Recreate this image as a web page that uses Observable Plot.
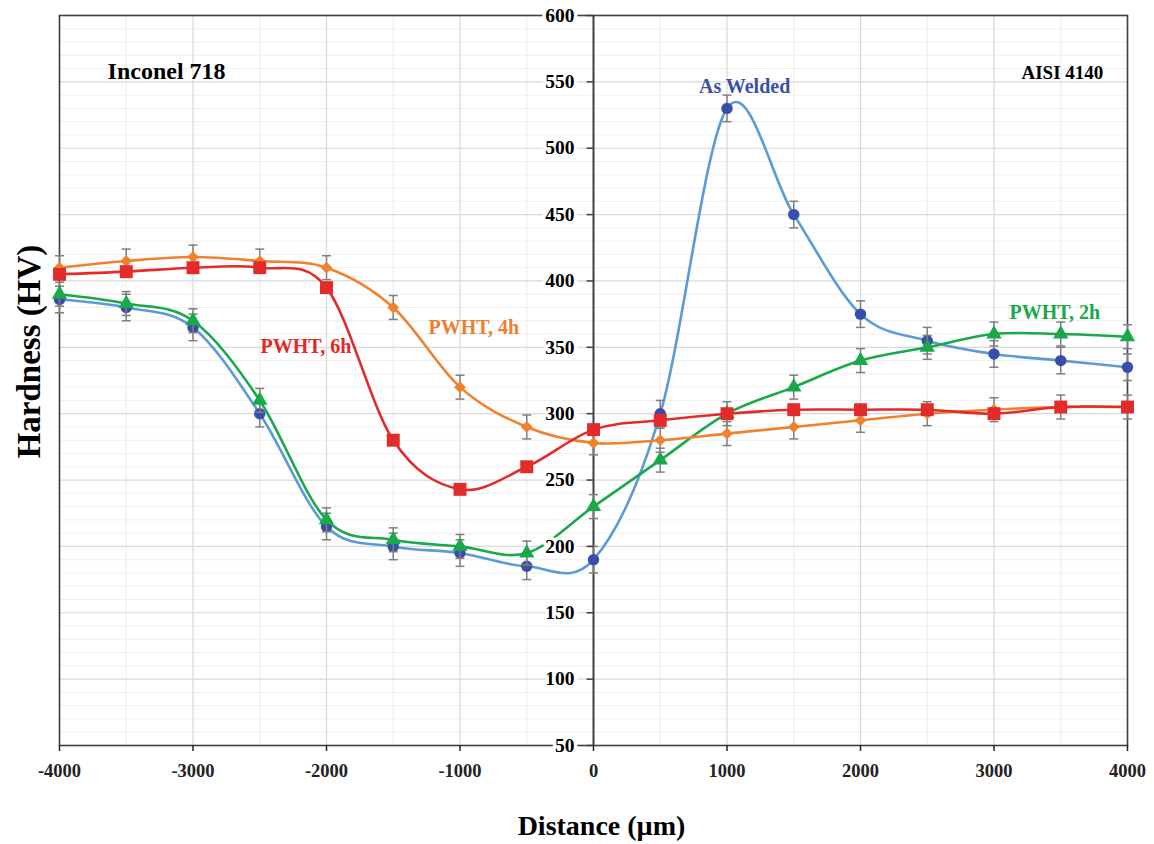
<!DOCTYPE html>
<html>
<head>
<meta charset="utf-8">
<script src="https://cdn.jsdelivr.net/npm/d3@7"></script>
<script src="https://cdn.jsdelivr.net/npm/@observablehq/plot@0.6"></script>
<style>
  html, body { margin: 0; padding: 0; background: white; }
</style>
</head>
<body>
<div id="chart"></div>
<script>
// ---- Data ----
const distance = [-4000, -3500, -3000, -2500, -2000, -1500, -1000, -500, 0, 500, 1000, 1500, 2000, 2500, 3000, 3500, 4000];
const asWelded = [386, 380, 365, 300, 215, 200, 195, 185, 190, 300, 530, 450, 375, 355, 345, 340, 335];
const pwht2h   = [390, 383, 370, 310, 220, 205, 200, 195, 230, 265, 300, 320, 340, 350, 360, 360, 358];
const pwht4h   = [410, 415, 418, 415, 410, 380, 320, 290, 278, 280, 285, 290, 295, 300, 303, 305, 305];
const pwht6h   = [405, 407, 410, 410, 395, 280, 243, 260, 288, 295, 300, 303, 303, 303, 300, 305, 305];
const errAsWelded = [10, 10, 10, 10, 10, 10, 10, 10, 10, 10, 10, 10, 10, 10, 10, 10, 10];
const err2h       = [9, 9, 9, 9, 9, 9, 9, 9, 9, 9, 9, 9, 9, 9, 9, 9, 9];
const err4h       = [9, 9, 9, 9, 9, 9, 9, 9, 9, 9, 9, 9, 9, 9, 9, 9, 9];

const xTicks = [-4000, -3000, -2000, -1000, 0, 1000, 2000, 3000, 4000];
const yTicks = [50, 100, 150, 200, 250, 300, 350, 400, 450, 500, 550, 600];

const seriesLabels = ["As Welded", "PWHT, 2h", "PWHT, 4h", "PWHT, 6h"];

// annotations (data coordinates)
const annotations = [
  {text: "Inconel 718", x: -3640, y: 558, color: "#000000", size: 24},
  {text: "AISI 4140",   x: 3206,  y: 556.4, color: "#000000", size: 19},
  {text: "As Welded",   x: 790,   y: 546.8, color: "#3C4FA8", size: 20},
  {text: "PWHT, 6h",    x: -2494, y: 350.2, color: "#E42828", size: 20},
  {text: "PWHT, 4h",    x: -1236, y: 364.5, color: "#ED7D31", size: 20},
  {text: "PWHT, 2h",    x: 3116,  y: 376.3, color: "#19A84A", size: 20}
];

// ---- Build tables ----
function rows(values, errs) {
  return distance.map((d, i) => ({x: d, v: values[i], e: errs ? errs[i] : 0}));
}
const series = [
  {name: seriesLabels[0], data: rows(asWelded, errAsWelded), line: "#5B9BD5", mark: "#3A4DA8", symbol: "circle", r: 5.7, err: true},
  {name: seriesLabels[1], data: rows(pwht2h, err2h), line: "#19A84A", mark: "#19A84A", symbol: "triangle", r: 5.7, err: true},
  {name: seriesLabels[2], data: rows(pwht4h, err4h), line: "#F0822F", mark: "#F0822F", symbol: "diamond2", r: 5.3, err: true},
  {name: seriesLabels[3], data: rows(pwht6h, null), line: "#E32B2B", mark: "#E32B2B", symbol: "square", r: 7.3, err: false}
];

const minorY = d3.range(50, 601, 10).filter(v => v % 50 !== 0);
const majorY = d3.range(50, 601, 50);
const minorX = d3.range(-3500, 4000, 1000);
const majorX = d3.range(-4000, 4001, 1000);

const capSymbol = {draw(ctx) { ctx.moveTo(-4.5, 0); ctx.lineTo(4.5, 0); }};
const tickSymbol = {draw(ctx) { ctx.moveTo(-7, 0); ctx.lineTo(0, 0); }};

const font = "'Liberation Serif', 'Times New Roman', Times, serif";

const seriesMarks = series.flatMap(s => {
  const m = [
    Plot.line(s.data, {x: "x", y: "v", stroke: s.line, strokeWidth: 2.6, curve: "cardinal", tension: 0})
  ];
  if (s.err) {
    m.push(Plot.ruleX(s.data, {x: "x", y1: d => d.v - d.e, y2: d => d.v + d.e, stroke: "#7F7F7F", strokeWidth: 1.5}));
    m.push(Plot.dot(s.data, {x: "x", y: d => d.v + d.e, symbol: capSymbol, stroke: "#7F7F7F", strokeWidth: 1.5, fill: "none"}));
    m.push(Plot.dot(s.data, {x: "x", y: d => d.v - d.e, symbol: capSymbol, stroke: "#7F7F7F", strokeWidth: 1.5, fill: "none"}));
  }
  m.push(Plot.dot(s.data, {x: "x", y: "v", symbol: s.symbol, r: s.r, fill: s.mark, stroke: "none"}));
  return m;
});

const chart = Plot.plot({
  width: 1154,
  height: 844,
  marginLeft: 59,
  marginRight: 27,
  marginTop: 15,
  marginBottom: 99,
  style: {fontFamily: font, background: "white", overflow: "visible"},
  x: {domain: [-4000, 4000], axis: null},
  y: {domain: [50, 600], axis: null},
  marks: [
    Plot.ruleY(minorY, {stroke: "#EFEFEF", strokeWidth: 1}),
    Plot.ruleX(minorX, {stroke: "#EBEBEB", strokeWidth: 1}),
    Plot.ruleY(majorY, {stroke: "#D9D9D9", strokeWidth: 1.2}),
    Plot.ruleX(majorX, {stroke: "#D9D9D9", strokeWidth: 1.2}),
    Plot.frame({stroke: "#404040", strokeWidth: 1.6}),
    Plot.ruleX([0], {stroke: "#404040", strokeWidth: 2}),
    Plot.text(annotations, {x: "x", y: "y", text: "text", fill: "color", fontSize: d => d.size, fontWeight: "bold", textAnchor: "start", lineAnchor: "middle"}),
    ...seriesMarks,
    Plot.text(yTicks, {x: 0, y: d => d, text: d => String(d), textAnchor: "end", dx: -19, fontSize: 19.5, fontWeight: "bold", fill: "#000", stroke: "white", strokeWidth: 7, lineAnchor: "middle"}),
    Plot.dot(yTicks, {x: 0, y: d => d, symbol: tickSymbol, stroke: "#404040", strokeWidth: 1.5, fill: "none"}),
    Plot.axisX(xTicks, {tickSize: 6, tickPadding: 12, tickFormat: d => d < 0 ? "-" + String(-d) : String(d), fontSize: 18.5, fontWeight: "bold", color: "#222", label: null, strokeWidth: 1.5}),
    Plot.text(["Distance (µm)"], {frameAnchor: "bottom", dy: 81, dx: 8, fontSize: 28, fontWeight: "bold", lineAnchor: "middle", textAnchor: "middle", fill: "#000"}),
    Plot.text(["Hardness (HV)"], {frameAnchor: "left", dx: -30, dy: -29, rotate: -90, fontSize: 33, fontWeight: "bold", lineAnchor: "middle", textAnchor: "middle", fill: "#000"})
  ]
});
document.getElementById("chart").appendChild(chart);
</script>
</body>
</html>
